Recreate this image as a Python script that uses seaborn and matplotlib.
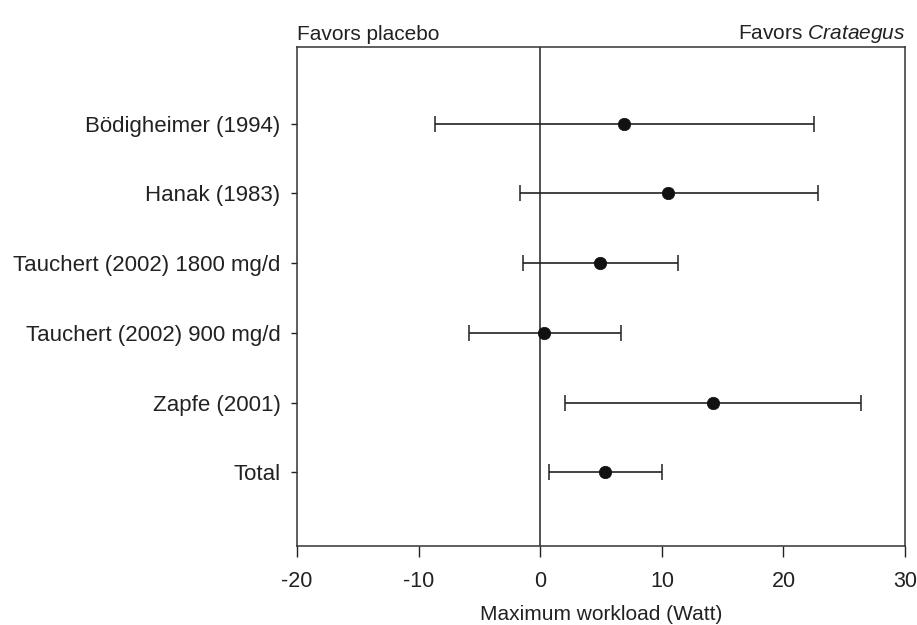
import numpy as np
import pandas as pd
import matplotlib
matplotlib.use("Agg")
import matplotlib.pyplot as plt
import seaborn as sns

# Data
studies = ["Bödigheimer (1994)", "Hanak (1983)", "Tauchert (2002) 1800 mg/d",
           "Tauchert (2002) 900 mg/d", "Zapfe (2001)", "Total"]
effect = [6.9, 10.5, 4.9, 0.3, 14.2, 5.3]
ci_low = [-8.7, -1.7, -1.4, -5.9, 2.0, 0.7]
ci_high = [22.5, 22.8, 11.3, 6.6, 26.4, 10.0]
x_ticks = [-20, -10, 0, 10, 20, 30]

df = pd.DataFrame({"study": studies, "effect": effect,
                   "low": ci_low, "high": ci_high})
df["pos"] = np.arange(len(df))

sns.set_style("ticks")
plt.rcParams['font.family'] = ['Liberation Sans', 'DejaVu Sans']
plt.rcParams['mathtext.fontset'] = 'custom'
plt.rcParams['mathtext.rm'] = 'Liberation Sans'
plt.rcParams['mathtext.it'] = 'Liberation Sans:italic'

fig = plt.figure(figsize=(9.17, 6.25), dpi=100)
ax = fig.add_axes([0.324, 0.126, 0.663, 0.799])

# confidence intervals
ax.errorbar(df["effect"], df["pos"],
            xerr=[df["effect"] - df["low"], df["high"] - df["effect"]],
            fmt="none", ecolor="#222222", elinewidth=1.2, capsize=6,
            capthick=1.1, zorder=2)
sns.scatterplot(data=df, x="effect", y="pos", color="#111111", s=80,
                edgecolor="#111111", linewidth=0.5, ax=ax, zorder=3)

ax.axvline(0, color="#222222", lw=1.1, zorder=1)

ax.set_xlim(-20, 30)
ax.set_ylim(5 + 1.06, -1.1)
ax.set_xticks(x_ticks)
ax.set_xticklabels([str(t) for t in x_ticks])
ax.set_yticks(df["pos"])
ax.set_yticklabels(studies)
ax.tick_params(axis="x", direction="out", length=8, width=1, labelsize=15.5,
               pad=10, colors="#222222")
ax.tick_params(axis="y", direction="out", length=4, width=1, labelsize=16,
               pad=8, colors="#222222")
for sp in ax.spines.values():
    sp.set_visible(True)
    sp.set_color("#333333")
    sp.set_linewidth(1.1)

ax.set_xlabel("Maximum workload (Watt)", fontsize=15, color="#222222",
              labelpad=9)
ax.set_ylabel("")

fig.text(0.324, 0.945, "Favors placebo", ha="left", va="center",
         fontsize=15, color="#222222")
fig.text(0.987, 0.945, "Favors $\\it{Crataegus}$", ha="right", va="center",
         fontsize=15, color="#222222")

fig.savefig("out.png", dpi=100)
